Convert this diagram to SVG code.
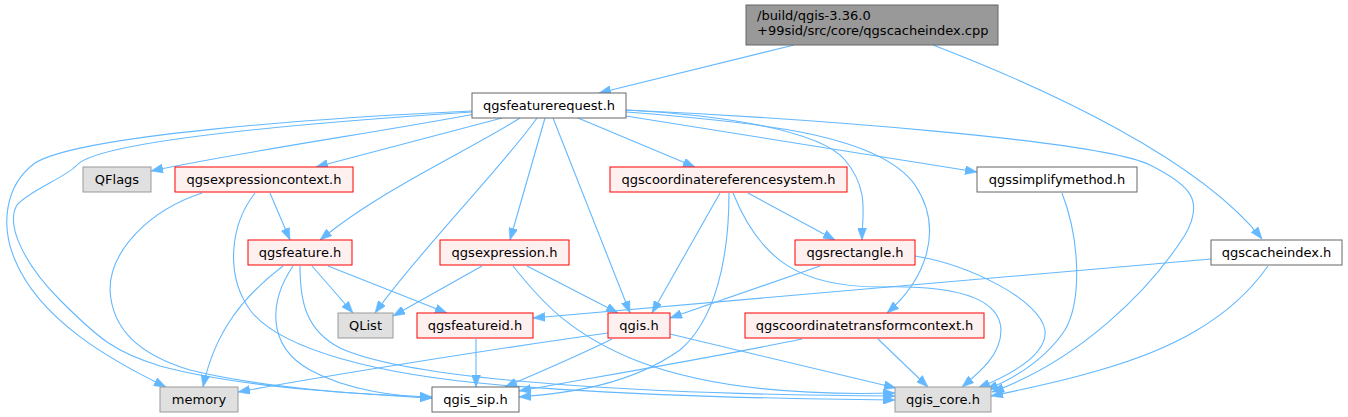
<svg xmlns="http://www.w3.org/2000/svg" width="1348" height="417" viewBox="0 0 1348 417">
<style>
  .n rect { stroke-width: 1; }
  .root rect { fill: #999999; stroke: #666666; }
  .white rect { fill: #ffffff; stroke: #666666; }
  .red rect { fill: #fff0f0; stroke: #ff0000; }
  .gray rect { fill: #e0e0e0; stroke: #999999; }
  text { font-family: "DejaVu Sans", sans-serif; font-size: 13px; fill: #000000; }
  .n text { text-anchor: middle; }
  .root text { text-anchor: start; }
  #edges path { fill: none; stroke: #63b8ff; stroke-width: 1.1; marker-end: url(#arrow); }
</style>
<defs>
  <marker id="arrow" viewBox="0 0 12 9" refX="12" refY="4.5" markerWidth="12" markerHeight="9" markerUnits="userSpaceOnUse" orient="auto">
    <path d="M0,0 L12,4.5 L0,9 z" fill="#63b8ff" stroke="#63b8ff" stroke-width="0.5"/>
  </marker>
</defs>
<rect width="1348" height="417" fill="#ffffff"/>
<g id="edges">
  <path d="M794,45 L599,93"/>
  <path d="M933,45 C1050,90 1200,160 1262,239"/>
  <path d="M475,114 C380,132 240,152 151,171"/>
  <path d="M502,118 L316,167"/>
  <path d="M520,118 C470,150 380,190 320,240"/>
  <path d="M472,111 C320,118 80,135 35,163 C5,185 0,225 15,260 C40,320 110,360 166,387"/>
  <path d="M472,112 C320,122 100,140 77,165 C65,178 30,190 17,205 C5,225 25,265 60,300 C100,340 115,352 160,366 C250,390 380,395 432,397"/>
  <path d="M537,118 C500,170 420,250 375,313"/>
  <path d="M545,118 L510,240"/>
  <path d="M553,118 L630,313"/>
  <path d="M578,118 L695,167"/>
  <path d="M626,110 C720,115 820,130 845,160 C870,190 862,215 862,240"/>
  <path d="M626,112 C760,122 880,135 915,185 C945,230 925,280 887,313"/>
  <path d="M626,116 L977,172"/>
  <path d="M626,110 C800,118 1100,140 1150,165 C1190,185 1205,200 1185,235 C1150,290 1080,360 992,392"/>
  <path d="M270,193 L290,240"/>
  <path d="M202,193 C150,210 110,250 110,290 C112,330 140,355 190,370 C270,390 380,395 432,398"/>
  <path d="M255,193 C230,225 225,275 250,310 C280,350 380,375 500,385 C650,397 800,399 895,400"/>
  <path d="M283,266 C245,295 215,330 203,387"/>
  <path d="M312,266 L353,313"/>
  <path d="M328,266 L447,313"/>
  <path d="M293,266 C270,300 265,345 310,370 C350,392 400,396 432,398"/>
  <path d="M300,266 C300,300 305,330 340,348 C420,385 700,395 895,396"/>
  <path d="M482,266 L393,316"/>
  <path d="M527,266 L618,313"/>
  <path d="M513,266 C540,300 570,335 640,362 C720,392 820,395 895,393"/>
  <path d="M720,193 L652,313"/>
  <path d="M729,193 C729,260 715,320 680,350 C630,385 570,393 519,397"/>
  <path d="M748,193 L835,240"/>
  <path d="M733,193 C760,260 800,287 880,287 C960,285 1000,300 1001,330 C1001,355 980,372 962,387"/>
  <path d="M820,266 L670,318"/>
  <path d="M915,256 C970,265 1040,300 1045,330 C1048,355 1010,375 978,388"/>
  <path d="M1062,193 C1080,240 1082,300 1065,330 C1045,360 1015,378 986,390"/>
  <path d="M1211,259 L533,318"/>
  <path d="M1268,266 C1230,320 1170,350 1100,370 C1060,382 1020,390 991,396"/>
  <path d="M476,339 L476,387"/>
  <path d="M608,333 C500,348 330,375 238,392"/>
  <path d="M612,339 C580,355 540,372 505,387"/>
  <path d="M670,334 L896,388"/>
  <path d="M802,339 C700,360 590,378 519,391"/>
  <path d="M878,339 L928,387"/>
</g>
<g id="node-root" class="n root"><rect x="746" y="5" width="252" height="40"/><text x="757" y="20">/build/qgis-3.36.0</text><text x="757" y="35">+99sid/src/core/qgscacheindex.cpp</text></g>
<g id="node-qgsfeaturerequest" class="n white"><rect x="472" y="93" width="154" height="25"/><text x="549" y="110">qgsfeaturerequest.h</text></g>
<g id="node-QFlags" class="n gray"><rect x="83" y="167" width="68" height="25"/><text x="117" y="184">QFlags</text></g>
<g id="node-qgsexpressioncontext" class="n red"><rect x="175" y="167" width="178" height="25"/><text x="264" y="184">qgsexpressioncontext.h</text></g>
<g id="node-qgscoordinatereferencesystem" class="n red"><rect x="610" y="167" width="237" height="25"/><text x="728.5" y="184">qgscoordinatereferencesystem.h</text></g>
<g id="node-qgssimplifymethod" class="n white"><rect x="977" y="167" width="160" height="25"/><text x="1057" y="184">qgssimplifymethod.h</text></g>
<g id="node-qgsfeature" class="n red"><rect x="248" y="240" width="104" height="25"/><text x="300" y="257">qgsfeature.h</text></g>
<g id="node-qgsexpression" class="n red"><rect x="440" y="240" width="129" height="25"/><text x="504.5" y="257">qgsexpression.h</text></g>
<g id="node-qgsrectangle" class="n red"><rect x="795" y="240" width="120" height="25"/><text x="855" y="257">qgsrectangle.h</text></g>
<g id="node-qgscacheindex" class="n white"><rect x="1211" y="240" width="131" height="25"/><text x="1276.5" y="257">qgscacheindex.h</text></g>
<g id="node-QList" class="n gray"><rect x="338" y="313" width="55" height="25"/><text x="365.5" y="330">QList</text></g>
<g id="node-qgsfeatureid" class="n red"><rect x="417" y="313" width="116" height="25"/><text x="475" y="330">qgsfeatureid.h</text></g>
<g id="node-qgis" class="n red"><rect x="608" y="313" width="62" height="25"/><text x="639" y="330">qgis.h</text></g>
<g id="node-qgscoordinatetransformcontext" class="n red"><rect x="745" y="313" width="239" height="25"/><text x="864.5" y="330">qgscoordinatetransformcontext.h</text></g>
<g id="node-memory" class="n gray"><rect x="160" y="387" width="78" height="25"/><text x="199" y="404">memory</text></g>
<g id="node-qgis_sip" class="n white"><rect x="432" y="387" width="87" height="25"/><text x="475.5" y="404">qgis_sip.h</text></g>
<g id="node-qgis_core" class="n gray"><rect x="895" y="387" width="96" height="25"/><text x="943" y="404">qgis_core.h</text></g>
</svg>
